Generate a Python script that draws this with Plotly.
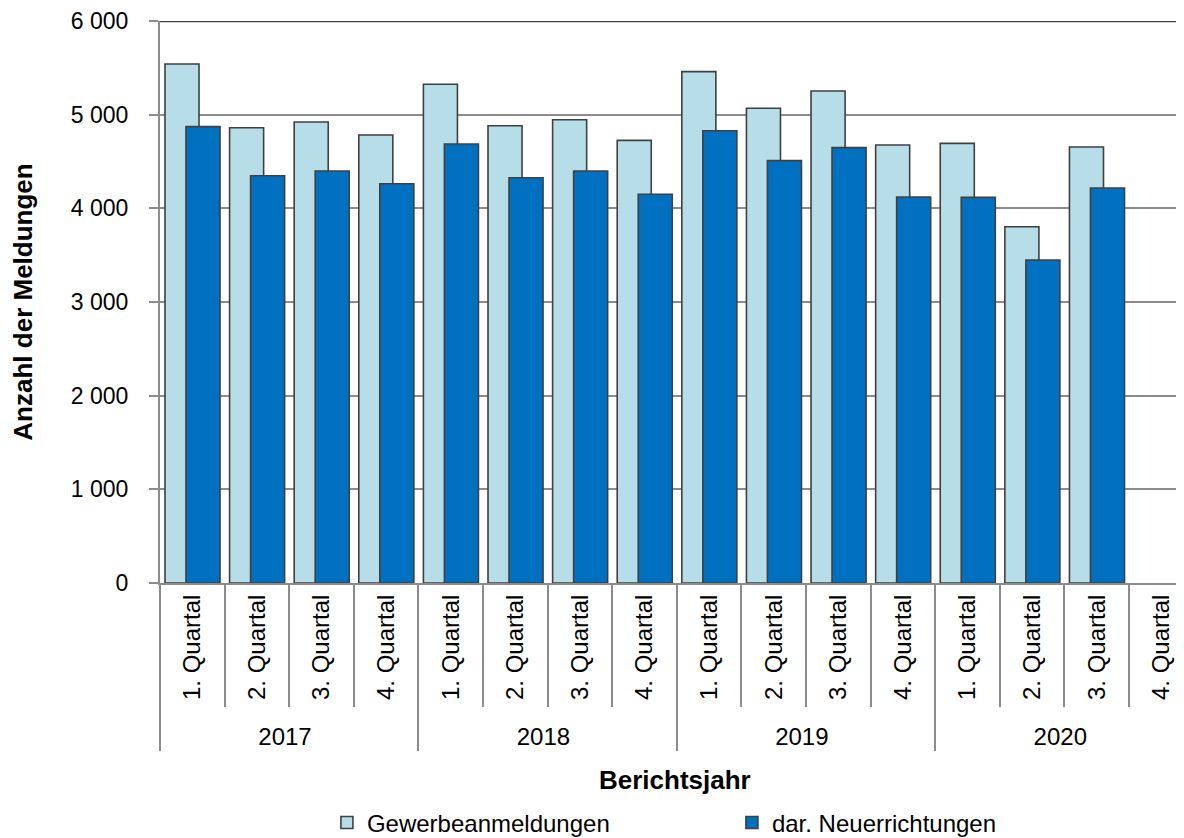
import plotly.graph_objects as go

years = ["2017"] * 4 + ["2018"] * 4 + ["2019"] * 4 + ["2020"] * 4
quarters = ["1. Quartal", "2. Quartal", "3. Quartal", "4. Quartal"] * 4
gewerbeanmeldungen = [5541, 4861, 4922, 4783, 5324, 4882, 4946, 4726,
                      5459, 5068, 5252, 4676, 4694, 3804, 4655, None]
neuerrichtungen = [4872, 4348, 4398, 4263, 4687, 4327, 4398, 4150,
                   4829, 4509, 4648, 4121, 4117, 3448, 4217, None]
y_ticks = [0, 1000, 2000, 3000, 4000, 5000, 6000]

FONT = "Liberation Sans, Arial, sans-serif"
LIGHT = "#B7DDE8"
DARK = "#0070C0"
EDGE = "#404040"
GRID = "#8C8C8C"

fig = go.Figure()
fig.add_trace(go.Bar(
    x=[years, quarters], y=gewerbeanmeldungen, name="Gewerbeanmeldungen",
    marker=dict(color=LIGHT, line=dict(color=EDGE, width=1.6)),
    width=0.527, offset=-0.423,
))
fig.add_trace(go.Bar(
    x=[years, quarters], y=neuerrichtungen, name="dar. Neuerrichtungen",
    marker=dict(color=DARK, line=dict(color=EDGE, width=1.6)),
    width=0.527, offset=-0.098,
))

# page has an 8px body margin, so the figure is 8px smaller and shifted
fig.update_layout(
    width=1176, height=830,
    margin=dict(l=152, r=0, t=13, b=255, autoexpand=False),
    paper_bgcolor="white", plot_bgcolor="white",
    barmode="overlay",
    separators=", ",
    font=dict(family=FONT, size=23, color="black"),
    showlegend=True,
    legend=dict(orientation="h", x=0.163, xanchor="left", y=-0.427, yanchor="middle",
                yref="paper", entrywidth=360, entrywidthmode="pixels",
                font=dict(size=24), traceorder="normal"),
)
fig.update_xaxes(
    type="multicategory",
    range=[-0.5, 15.35],
    automargin=False,
    tickangle=-90,
    ticks="outside", ticklen=122, tickcolor=GRID, tickwidth=1.6,
    showline=True, linecolor=GRID, linewidth=2,
    showdividers=True, dividercolor=GRID, dividerwidth=1.6,
    showgrid=False,
    tickfont=dict(size=24),
)
fig.update_yaxes(
    range=[0, 6000], tickvals=y_ticks, tickformat=",d",
    automargin=False,
    ticks="outside", ticklen=9, tickcolor=GRID, tickwidth=1.6,
    showline=True, linecolor=GRID, linewidth=2,
    showgrid=True, gridcolor=GRID, gridwidth=1.6,
    zeroline=False,
    ticklabelstandoff=16,
    tickfont=dict(size=23),
    title=dict(text="<b>Anzahl der Meldungen</b>", font=dict(size=26), standoff=35),
)
# dark top border of the plot area
fig.add_shape(type="line", xref="paper", yref="y", x0=0, x1=1, y0=6000, y1=6000,
              line=dict(color=EDGE, width=2.5))
fig.add_annotation(text="<b>Berichtsjahr</b>", xref="paper", yref="paper",
                   x=0.503, y=-0.38, showarrow=False, font=dict(size=26))

fig.write_html("out.html")
